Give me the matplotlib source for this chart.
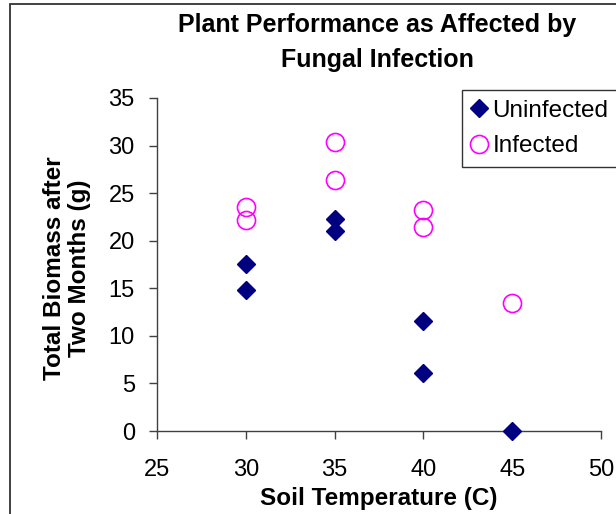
import matplotlib
matplotlib.use("Agg")
import matplotlib.pyplot as plt
from matplotlib.patches import Rectangle

plt.rcParams['font.family'] = ['Liberation Sans', 'DejaVu Sans']

# Datos
temp_uninf = [30, 30, 35, 35, 40, 40, 45]
bio_uninf = [17.6, 14.8, 22.3, 21.0, 11.6, 6.1, 0.0]
temp_inf = [30, 30, 35, 35, 40, 40, 45]
bio_inf = [23.5, 22.2, 30.4, 26.4, 23.2, 21.4, 13.5]

W, H = 616, 514
fig = plt.figure(figsize=(W / 100, H / 100), dpi=100)
ax = fig.add_axes([157 / W, 1 - 431 / H, (601 - 157) / W, (431 - 98) / H])

# Marco exterior del grafico (cortado a la derecha y abajo)
fig.patches.append(Rectangle((10 / W, -0.2), 1.5, 1.2 - 4 / H, transform=fig.transFigure,
                             fill=False, edgecolor='#333333', linewidth=1.3))

ax.plot(temp_uninf, bio_uninf, linestyle='none', marker='D', markersize=9.5,
        color='#000080', label='Uninfected', clip_on=False, zorder=3)
ax.plot(temp_inf, bio_inf, linestyle='none', marker='o', markersize=13,
        markerfacecolor='none', markeredgecolor='#FF00FF', markeredgewidth=1.2,
        label='Infected', clip_on=False, zorder=3)

ax.set_xlim(25, 50)
ax.set_ylim(0, 35)
ax.set_xticks(range(25, 51, 5))
ax.set_yticks(range(0, 36, 5))
ax.spines['top'].set_visible(False)
ax.spines['right'].set_visible(False)
for s in ['left', 'bottom']:
    ax.spines[s].set_color('#404040')
    ax.spines[s].set_linewidth(1.0)
ax.tick_params(axis='both', direction='out', length=6, width=1.0, color='#404040', labelsize=17)
ax.tick_params(axis='x', pad=14)
ax.tick_params(axis='y', pad=10)

# Titulo y etiquetas
fig.text(377 / W, 1 - 32 / H, 'Plant Performance as Affected by', ha='center', va='baseline',
         fontsize=18, fontweight='bold')
fig.text(377 / W, 1 - 67 / H, 'Fungal Infection', ha='center', va='baseline',
         fontsize=18, fontweight='bold')
fig.text(379 / W, 1 - 505 / H, 'Soil Temperature (C)', ha='center', va='baseline',
         fontsize=17.5, fontweight='bold')
fig.text(67 / W, 1 - 268 / H, 'Total Biomass after\nTwo Months (g)', ha='center', va='center',
         rotation=90, multialignment='center', fontsize=17.5, fontweight='bold', linespacing=1.1)

leg = fig.legend(loc='upper left', bbox_to_anchor=(462 / W, 1 - 90 / H), fontsize=17.5,
                 frameon=True, fancybox=False, borderaxespad=0, handletextpad=0.25,
                 handlelength=0.6, labelspacing=0.55, borderpad=0.4)
leg.get_frame().set_edgecolor('#000000')
leg.get_frame().set_linewidth(1.0)

fig.savefig('out.png', dpi=100)
